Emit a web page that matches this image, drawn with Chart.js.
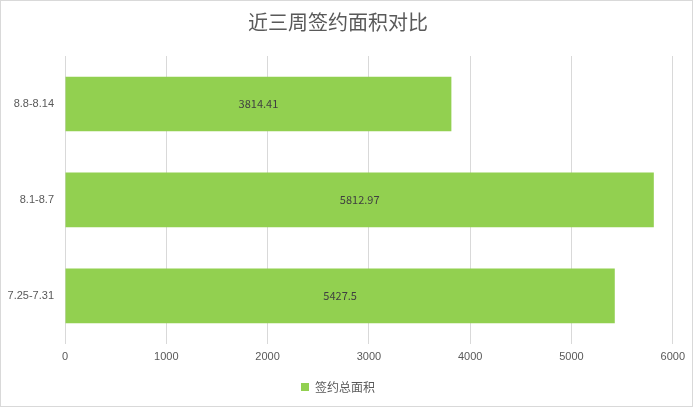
<!DOCTYPE html>
<html>
<head>
<meta charset="utf-8">
<script src="https://cdn.jsdelivr.net/npm/chart.js@4"></script>
<style>
  html, body { margin: 0; padding: 0; background: #fff; }
  #wrap { position: absolute; left: 0; top: 0; width: 691px; height: 405px; border: 1px solid #d9d9d9; }
</style>
</head>
<body>
<div id="wrap"><canvas id="barChart"></canvas></div>
<script>
// 数据
const categories = ['8.8-8.14', '8.1-8.7', '7.25-7.31'];
const areaValues = [3814.41, 5812.97, 5427.5];
const seriesName = '签约总面积';
const barColor = '#92D050';

// 柱内数值标签
const valueLabels = {
    id: 'valueLabels',
    afterDatasetsDraw(chart) {
        const ctx = chart.ctx;
        const meta = chart.getDatasetMeta(0);
        ctx.save();
        ctx.font = '11px "Noto Sans CJK SC", "DejaVu Sans", sans-serif';
        ctx.fillStyle = '#404040';
        ctx.textAlign = 'center';
        ctx.textBaseline = 'middle';
        meta.data.forEach((bar, i) => {
            const x = (bar.x + bar.base) / 2;
            ctx.fillText(String(areaValues[i]), x, bar.y);
        });
        ctx.restore();
    }
};

new Chart(document.getElementById('barChart'), {
    type: 'bar',
    data: {
        labels: categories,
        datasets: [{
            label: seriesName,
            data: areaValues,
            backgroundColor: barColor,
            borderWidth: 0,
            barPercentage: 0.57,
            categoryPercentage: 1
        }]
    },
    options: {
        indexAxis: 'y',
        responsive: true,
        maintainAspectRatio: false,
        animation: false,
        layout: { padding: { left: 0, right: 17, top: 0, bottom: 3 } },
        plugins: {
            title: {
                display: true,
                text: '近三周签约面积对比',
                color: '#595959',
                font: { size: 20, family: '"Noto Sans CJK SC", sans-serif', weight: 'normal' },
                padding: { top: 9, bottom: 22 }
            },
            legend: {
                position: 'bottom',
                labels: {
                    color: '#595959',
                    boxWidth: 8,
                    boxHeight: 8,
                    font: { size: 12, family: '"Noto Sans CJK SC", sans-serif' },
                    padding: 10
                }
            },
            tooltip: { enabled: false }
        },
        scales: {
            x: {
                min: 0,
                max: 6000,
                ticks: {
                    stepSize: 1000,
                    color: '#595959',
                    font: { size: 11, family: '"Liberation Sans", sans-serif' },
                    padding: 7,
                    callback: value => String(value)
                },
                grid: { color: '#d9d9d9', drawTicks: false },
                border: { display: false }
            },
            y: {
                afterFit(scale) { scale.width = 64; },
                ticks: {
                    color: '#595959',
                    font: { size: 11, family: '"Liberation Sans", sans-serif' },
                    padding: 3
                },
                grid: { display: false },
                border: { display: false }
            }
        }
    },
    plugins: [valueLabels]
});
</script>
</body>
</html>
